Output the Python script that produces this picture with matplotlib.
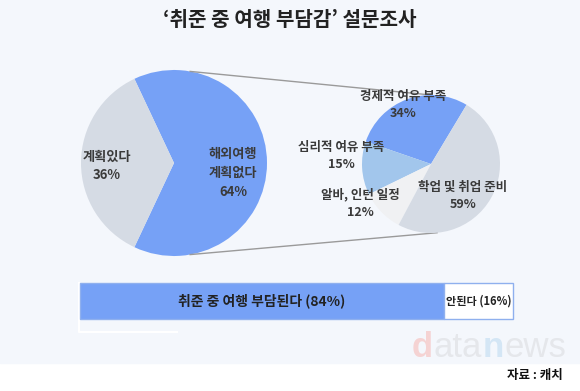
#!/usr/bin/env python3

import numpy as np
import matplotlib
matplotlib.use('Agg')
import matplotlib.pyplot as plt
from matplotlib.patches import Rectangle

plt.rcParams['font.family'] = ['Noto Sans CJK KR', 'DejaVu Sans']

# Data
title = '‘취준 중 여행 부담감’ 설문조사'
plan_labels = ['해외여행\n계획없다', '계획있다']
plan_values = [64, 36]
reason_labels = ['경제적 여유 부족', '심리적 여유 부족', '알바, 인턴 일정', '학업 및 취업 준비']
reason_values = [34, 15, 12, 59]
burden_labels = ['취준 중 여행 부담된다', '안된다']
burden_values = [84, 16]
source = '자료 : 캐치'

W, H = 580, 391
BG = '#f4f7fc'
BLUE = '#76a1f6'
GRAY = '#d5dbe4'
LIGHTBLUE = '#a2c6ec'
PALE = '#f0f1f3'
TEXT = '#3a3a3a'


def Y(y):
    # pixel row (from top) -> data y
    return H - y


fig = plt.figure(figsize=(W / 100, H / 100), dpi=100)
fig.patch.set_facecolor('white')
ax = fig.add_axes([0, 0, 1, 1])
ax.set_xlim(0, W)
ax.set_ylim(0, H)
ax.axis('off')

ax.add_patch(Rectangle((0, Y(363)), W, 363, color=BG, zorder=0))

ax.text(290, Y(19), title, ha='center', va='center', fontsize=14.5,
        fontweight='bold', color='#222222')

# left pie
lc, lr = (174, 163), 93
start = -plan_values[0] / sum(plan_values) * 180
ax.pie(plan_values, colors=[BLUE, GRAY], startangle=start, counterclock=True,
       center=(lc[0], Y(lc[1])), radius=lr, frame=True,
       wedgeprops=dict(linewidth=0))
ax.text(233, Y(173), f'{plan_labels[0]}\n{plan_values[0]}%', ha='center',
        va='center', fontsize=9.5, color=TEXT, linespacing=1.45, fontweight='bold')
ax.text(107, Y(166), f'{plan_labels[1]}\n{plan_values[1]}%', ha='center',
        va='center', fontsize=9.5, color=TEXT, linespacing=1.45, fontweight='bold')

# right pie
rc, rr = (431, 164), 69
ax.pie(reason_values, colors=[BLUE, LIGHTBLUE, PALE, GRAY], startangle=59,
       counterclock=True, center=(rc[0], Y(rc[1])), radius=rr, frame=True,
       wedgeprops=dict(linewidth=0, zorder=3))

# connector lines
for a_left, a_right in [(80, 90), (-80, -85)]:
    x0 = lc[0] + lr * np.cos(np.radians(a_left))
    y0 = Y(lc[1]) + lr * np.sin(np.radians(a_left))
    x1 = rc[0] + rr * np.cos(np.radians(a_right))
    y1 = Y(rc[1]) + rr * np.sin(np.radians(a_right))
    ax.plot([x0, x1], [y0, y1], color='#9a9a9a', lw=1, zorder=2)

label_pos = [(403, 105), (341, 156), (360, 203), (463, 196)]
for lab, val, (x, y) in zip(reason_labels, reason_values, label_pos):
    ax.text(x, Y(y), f'{lab}\n{val}%', ha='center', va='center', fontsize=9,
            color=TEXT, linespacing=1.45, fontweight='bold', zorder=5)

# stacked bar
bx0, bx1, by0, by1 = 80, 513, 283, 319
bw = bx1 - bx0
shares = np.array(burden_values) / sum(burden_values)
lefts = bx0 + bw * np.concatenate([[0], np.cumsum(shares)[:-1]])
ax.barh(Y((by0 + by1) / 2), shares * bw, left=lefts, height=by1 - by0,
        color=[BLUE, 'white'], edgecolor='#8fb0ee', linewidth=1, zorder=3)
for lab, val, l, s, fs in zip(burden_labels, burden_values, lefts, shares * bw,
                              [10, 8]):
    ax.text(l + s / 2, Y(301), f'{lab} ({val}%)', ha='center', va='center',
            fontsize=fs, color='#222222', fontweight='bold', zorder=5)
ax.plot([79, 79, 177], [Y(283), Y(332), Y(332)], color='white', lw=1.5, zorder=2)

# watermark, pieces laid out one after the other
fig.canvas.draw()
r = fig.canvas.get_renderer()
wm = [('d', '#f5d3d3', 'bold'), ('ata', '#e5e7eb', 'normal'),
      ('n', '#d4e6f5', 'bold'), ('ews', '#e5e7eb', 'normal')]
x = 412
for t, c, w in wm:
    txt = ax.text(x, Y(357), t, ha='left', va='baseline', fontsize=25, color=c,
                  fontweight=w, family='Liberation Sans', zorder=1)
    bb = txt.get_window_extent(renderer=r)
    x += bb.width + 0.5

ax.text(563, Y(376), source, ha='right', va='center', fontsize=9,
        fontweight='bold', color='#111111')

fig.savefig('out.png', dpi=100, facecolor='white')
